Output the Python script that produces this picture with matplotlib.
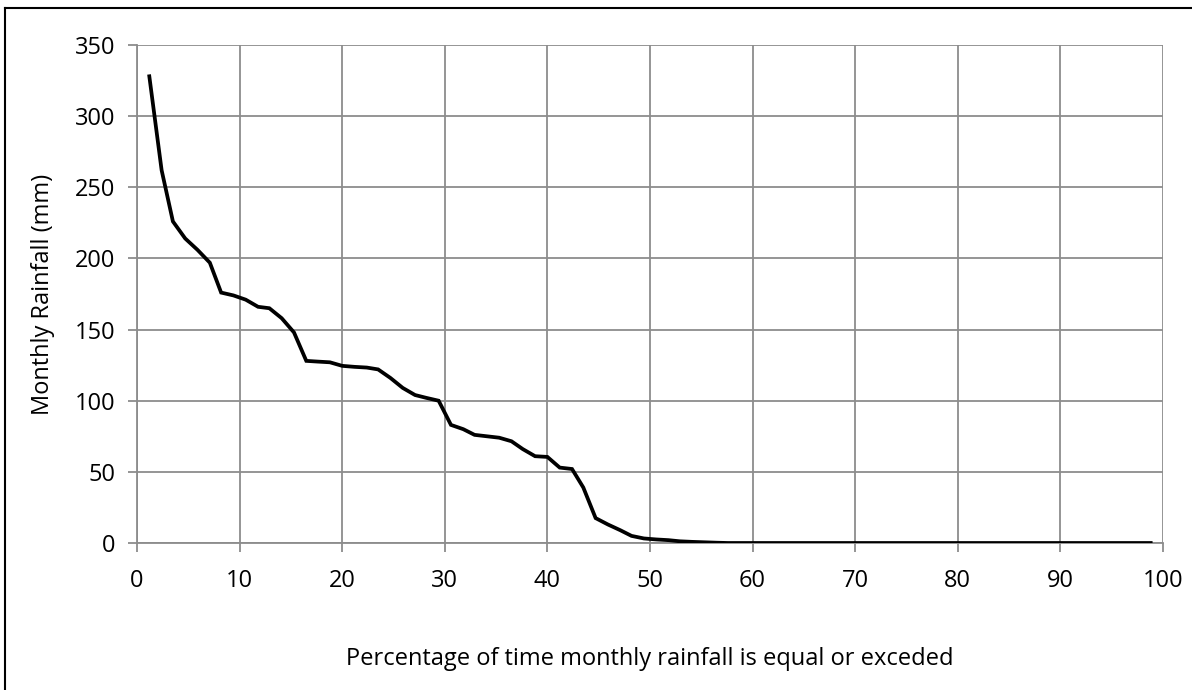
import matplotlib.pyplot as plt
from matplotlib.lines import Line2D

# --- Data ---
exceedance_pct = [
    1.2, 2.4, 3.5, 4.7, 5.9, 7.1, 8.2, 9.4, 10.6, 11.8, 12.9, 14.1, 15.3, 16.5,
    17.6, 18.8, 20.0, 21.2, 22.4, 23.5, 24.7, 25.9, 27.1, 28.2, 29.4, 30.6,
    31.8, 32.9, 34.1, 35.3, 36.5, 37.6, 38.8, 40.0, 41.2, 42.4, 43.5, 44.7,
    45.9, 47.1, 48.2, 49.4, 50.6, 51.8, 52.9, 54.1, 55.3, 56.5, 57.6, 58.8,
    60.0, 61.2, 62.4, 63.5, 64.7, 65.9, 67.1, 68.2, 69.4, 70.6, 71.8, 72.9,
    74.1, 75.3, 76.5, 77.6, 78.8, 80.0, 81.2, 82.4, 83.5, 84.7, 85.9, 87.1,
    88.2, 89.4, 90.6, 91.8, 92.9, 94.1, 95.3, 96.5, 97.6, 98.8,
]
monthly_rainfall = [
    328, 262, 226, 214, 206, 197, 176, 174, 171, 166, 165, 158, 148, 128,
    127.5, 127, 124.5, 123.8, 123.3, 122, 116, 109, 104, 102, 100, 83,
    80, 76, 75, 74, 71.5, 66, 61, 60.5, 53, 52, 39, 17.5,
    13, 9, 5, 3.2, 2.5, 2, 1.2, 0.8, 0.5, 0.2, 0, 0,
    0, 0, 0, 0, 0, 0, 0, 0, 0, 0, 0, 0,
    0, 0, 0, 0, 0, 0, 0, 0, 0, 0, 0, 0,
    0, 0, 0, 0, 0, 0, 0, 0, 0, 0,
]
x_ticks = [0, 10, 20, 30, 40, 50, 60, 70, 80, 90, 100]
y_ticks = [0, 50, 100, 150, 200, 250, 300, 350]

GRID_COLOR = '#8c8c8c'
FONT_SIZE = 17
plt.rcParams['font.family'] = ['Open Sans', 'DejaVu Sans']

fig = plt.figure(figsize=(11.92, 6.9), dpi=100)
ax = fig.add_axes([137 / 1192, 1 - 543 / 690, 1026 / 1192, 498 / 690])

ax.plot(exceedance_pct, monthly_rainfall, color='black', linewidth=2.7,
        solid_joinstyle='miter', zorder=3)

ax.set_xlim(0, 100)
ax.set_ylim(0, 350)
ax.set_xticks(x_ticks)
ax.set_yticks(y_ticks)
ax.grid(True, color=GRID_COLOR, linewidth=1.3)
ax.set_axisbelow(True)

for side in ['top', 'right']:
    ax.spines[side].set_visible(False)
for side in ['left', 'bottom']:
    ax.spines[side].set_color(GRID_COLOR)
    ax.spines[side].set_linewidth(1.3)

ax.tick_params(axis='both', direction='out', color=GRID_COLOR, width=1.3,
               length=6.5, labelsize=FONT_SIZE, labelcolor='black')
ax.tick_params(axis='x', pad=12)
ax.tick_params(axis='y', pad=9)

ax.set_xlabel('Percentage of time monthly rainfall is equal or exceded',
              fontsize=FONT_SIZE, labelpad=39)
ax.set_ylabel('Monthly Rainfall (mm)', fontsize=FONT_SIZE, labelpad=14)

# Chart border (only top and left edges are visible in the image)
fig.add_artist(Line2D([5 / 1192, 5 / 1192], [0, 1 - 8 / 690],
                      transform=fig.transFigure, color='black', linewidth=1.5))
fig.add_artist(Line2D([5 / 1192, 1], [1 - 8 / 690, 1 - 8 / 690],
                      transform=fig.transFigure, color='black', linewidth=1.5))

plt.savefig('out.png', dpi=100)
plt.close(fig)
